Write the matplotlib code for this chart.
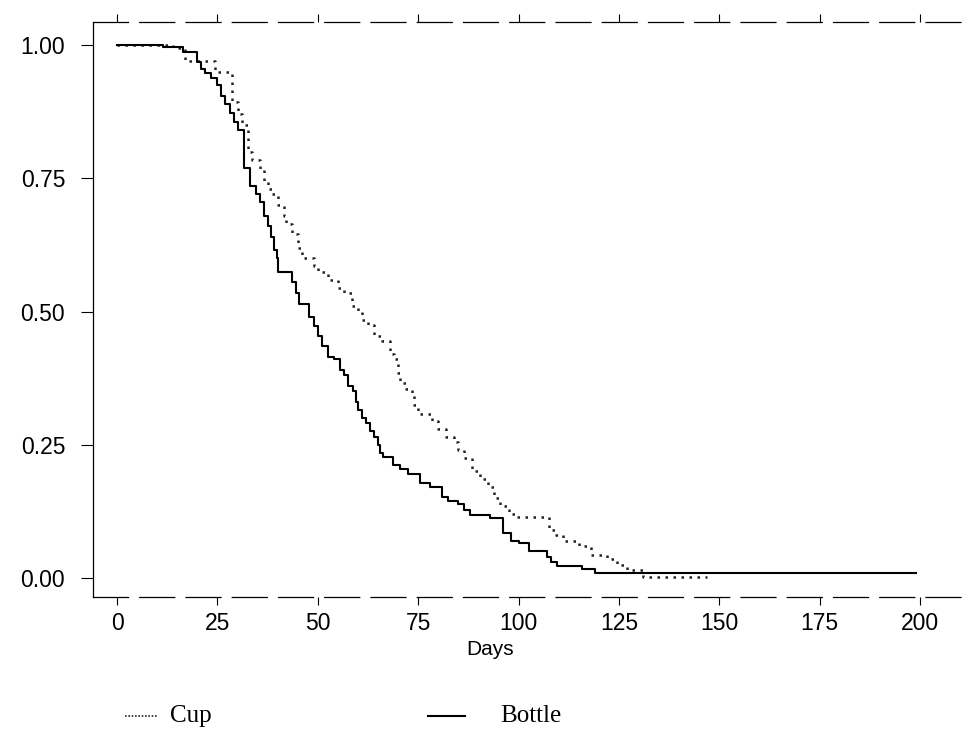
import matplotlib.pyplot as plt
from matplotlib.lines import Line2D

# Kaplan-Meier style step data
bottle_days = [0, 11.5, 16.5, 20, 21, 22, 23.5, 25, 26, 27, 28, 29, 30, 31.6, 33.1,
               34.5, 35.5, 36.5, 37.5, 38.3, 39, 39.8, 40.2, 43.5, 44.6, 45.3, 47.8,
               49, 50, 51, 52.5, 54, 55.5, 56.5, 57.5, 58.8, 59.5, 60, 61, 62, 63, 64,
               65, 65.5, 66.3, 68.8, 70.5, 72.5, 75.5, 78, 81, 82.5, 85, 86.5, 88, 93,
               96, 98, 100, 102.5, 107, 108, 109.5, 115.8, 119, 199]
bottle_surv = [1.0, 0.996, 0.987, 0.968, 0.955, 0.947, 0.938, 0.925, 0.905, 0.89, 0.872,
               0.855, 0.84, 0.77, 0.735, 0.72, 0.705, 0.68, 0.66, 0.64, 0.615, 0.60,
               0.574, 0.555, 0.535, 0.515, 0.49, 0.472, 0.455, 0.435, 0.415, 0.41, 0.39,
               0.38, 0.36, 0.35, 0.33, 0.315, 0.30, 0.29, 0.275, 0.265, 0.25, 0.235,
               0.227, 0.212, 0.205, 0.195, 0.178, 0.171, 0.152, 0.145, 0.138, 0.128,
               0.118, 0.113, 0.084, 0.07, 0.065, 0.05, 0.04, 0.03, 0.022, 0.017, 0.01,
               0.009]

cup_days = [0, 14, 17, 24.5, 28.5, 30, 31, 32.5, 33.5, 35.5, 36.5, 37.5, 38.5, 40, 41.5,
            42, 43.5, 45, 46, 49, 50, 52.5, 55, 56.5, 58.5, 60, 61, 62.5, 64, 66, 68,
            69, 70, 70.5, 72, 73.5, 74, 75, 78.5, 80, 82, 84, 85, 86.5, 88.5, 90.5,
            92.5, 94, 95.5, 97.5, 99, 107.5, 109, 111, 115, 118, 122, 124.5, 127, 131,
            147]
cup_surv = [1.0, 0.995, 0.97, 0.95, 0.893, 0.87, 0.85, 0.80, 0.785, 0.765, 0.745, 0.73,
            0.72, 0.70, 0.68, 0.665, 0.645, 0.62, 0.60, 0.585, 0.575, 0.56, 0.545,
            0.535, 0.51, 0.50, 0.485, 0.475, 0.455, 0.445, 0.42, 0.41, 0.385, 0.365,
            0.355, 0.345, 0.325, 0.307, 0.295, 0.28, 0.265, 0.255, 0.24, 0.225, 0.20,
            0.185, 0.17, 0.15, 0.135, 0.12, 0.115, 0.09, 0.08, 0.07, 0.06, 0.043,
            0.035, 0.025, 0.015, 0.002, 0.002]

xticks = [0, 25, 50, 75, 100, 125, 150, 175, 200]
yticks = [0.0, 0.25, 0.5, 0.75, 1.0]
ylabels = ["0.00", "0.25", "0.50", "0.75", "1.00"]

fig = plt.figure(figsize=(9.8, 7.32), dpi=100)
ax = fig.add_axes([0.0949, 0.1844, 0.8898, 0.7856])

ax.plot(cup_days, cup_surv, drawstyle="steps-post", color="#222222",
        lw=1.8, linestyle=(0, (1, 2.2)))
ax.plot(bottle_days, bottle_surv, drawstyle="steps-post", color="black", lw=1.5)

ax.set_xlim(-6, 211.2)
ax.set_ylim(-0.0356, 1.0432)

ax.set_xticks(xticks)
ax.set_yticks(yticks)
ax.set_yticklabels(ylabels)
ax.tick_params(axis="x", direction="out", length=6, width=0.8, pad=5,
               labelsize=16.5, top=True, labeltop=False)
ax.tick_params(axis="y", direction="out", length=9, width=0.8, pad=11,
               labelsize=16.5)
for lab in ax.get_xticklabels() + ax.get_yticklabels():
    lab.set_fontfamily("Liberation Sans")

ax.spines["right"].set_visible(False)
ax.spines["top"].set_linestyle((0, (28, 9)))
ax.spines["bottom"].set_linestyle((0, (28, 9)))
for s in ["top", "bottom", "left"]:
    ax.spines[s].set_linewidth(0.9)

ax.set_xlabel("Days", fontsize=15, family="Liberation Sans")
ax.xaxis.set_label_coords(0.455, -0.075)

# legend drawn below the plot
fig.add_artist(Line2D([125 / 980, 158 / 980], [0.0219, 0.0219], color="#222222",
                      lw=1.2, linestyle=(0, (1, 1))))
fig.text(170 / 980, 0.0219, "Cup", fontsize=18, family="Liberation Serif",
         va="center", ha="left")
fig.add_artist(Line2D([428 / 980, 465 / 980], [0.0219, 0.0219], color="black",
                      lw=1.5))
fig.text(500 / 980, 0.0219, "Bottle", fontsize=18, family="Liberation Serif",
         va="center", ha="left")

fig.savefig("out.png", dpi=100)
